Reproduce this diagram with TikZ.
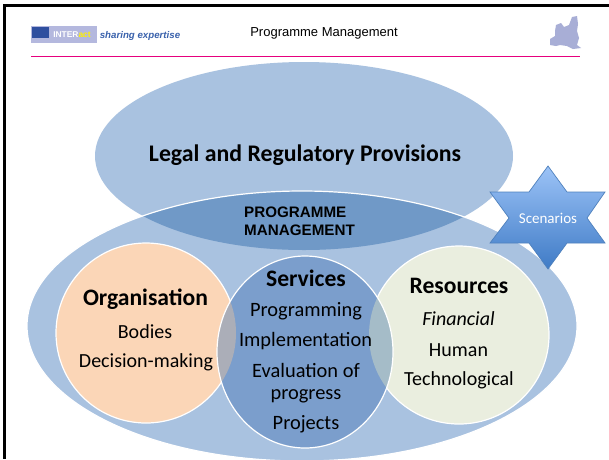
\documentclass[tikz,border=0pt]{standalone}
\usepackage{fontspec}
\setmainfont{Carlito}
\newfontfamily\arialf{Liberation Sans}
\definecolor{ellA}{HTML}{A9C2E0}
\definecolor{overlapA}{HTML}{7099C7}
\definecolor{servC}{HTML}{7B9ECC}
\definecolor{orgC}{HTML}{FBD6B7}
\definecolor{resC}{HTML}{EAEEDF}
\definecolor{lensL}{HTML}{ABAEB8}
\definecolor{lensR}{HTML}{A5BCC8}
\definecolor{pinkL}{HTML}{E6007E}
\definecolor{starT}{HTML}{9CC3F7}
\definecolor{starB}{HTML}{3F7BC6}
\definecolor{starE}{HTML}{4F81BD}
\definecolor{logoB}{HTML}{B4B8DE}
\definecolor{logoF}{HTML}{2F4F9F}
\definecolor{slog}{HTML}{3A62AC}
\definecolor{mapC}{HTML}{A8AED6}
\tikzset{
  txt/.style={inner sep=0pt,text=black},
  head/.style={txt,font=\fontsize{23.6}{26}\selectfont\bfseries},
  item/.style={txt,font=\fontsize{20.4}{22}\selectfont},
  sub/.style={txt,font=\fontsize{20}{23}\selectfont},
  ring/.style={draw=white,line width=1.2pt},
}
\begin{document}
\begin{tikzpicture}[x=1pt,y=-1pt]
\useasboundingbox (0,0) rectangle (609,459);
\fill[white] (0,0) rectangle (609,459);
% slide frame
\fill[black] (3,4) rectangle (609,6.5);
\fill[black] (3,4) rectangle (6,459);
% header
\fill[logoB] (31,26) rectangle (97,43);
\fill[logoF] (32,27) rectangle (48.5,38);
\node[inner sep=0pt,font=\arialf\fontsize{8.4}{9}\selectfont\bfseries,text=white] (logo) at (72,35) {INTER\textcolor{yellow}{act}};
\node[inner sep=0pt,font=\arialf\fontsize{9.7}{10}\selectfont\bfseries\itshape,text=slog] (slogan) at (140,35.5) {sharing expertise};
\node[inner sep=0pt,font=\arialf\fontsize{13}{15}\selectfont,text=black] (title) at (324,33) {Programme Management};
\draw[pinkL,line width=1.1pt] (31,56.3) -- (580,56.3);
\fill[mapC] (572,17) -- (577,16) -- (578,24) -- (577,31) -- (579,38) -- (577,45) -- (581,48) -- (573,49) -- (567,46) -- (560,45) -- (556,46) -- (550,45) -- (550,39) -- (555,36) -- (555,31) -- (556,25) -- (561,23) -- (564,27) -- (569,25) -- cycle;
% ellipses
\fill[ellA] (304,156) ellipse [x radius=209,y radius=94];
\fill[ellA] (302,326) ellipse [x radius=275,y radius=135];
\begin{scope}
\clip (304,156) ellipse [x radius=209,y radius=94];
\fill[overlapA] (302,326) ellipse [x radius=275,y radius=135];
\end{scope}
\draw[ring] (302,326) ellipse [x radius=275,y radius=135];
% circles
\fill[orgC] (146,333) ellipse [x radius=90,y radius=90];
\draw[ring] (146,333) ellipse [x radius=90,y radius=90];
\fill[resC] (459,335) ellipse [x radius=90,y radius=89];
\draw[ring] (459,335) ellipse [x radius=90,y radius=89];
\fill[servC] (305,352) ellipse [x radius=88,y radius=96];
\begin{scope}
\clip (305,352) ellipse [x radius=88,y radius=96];
\fill[lensL] (146,333) ellipse [x radius=90,y radius=90];
\fill[lensR] (459,335) ellipse [x radius=90,y radius=89];
\end{scope}
\draw[ring] (305,352) ellipse [x radius=88,y radius=96];
% star
\shade[top color=starT,bottom color=starB,draw=starE,line width=0.7pt]
 (548,166) -- (567,192) -- (605,192) -- (587,218) -- (605,243) -- (567,243) -- (548,269) -- (529,243) -- (490,243) -- (509,218) -- (490,192) -- (529,192) -- cycle;
% texts
\node[inner sep=0pt,font=\fontsize{23.8}{26}\selectfont\bfseries,text=black] (legal) at (305,155) {Legal and Regulatory Provisions};
\node[inner sep=0pt,font=\arialf\fontsize{15.2}{18}\selectfont\bfseries,text=black,align=left,anchor=west] (pm) at (244,221.5) {PROGRAMME\\MANAGEMENT};
\node[inner sep=0pt,font=\fontsize{15}{17}\selectfont,text=white] (scen) at (548,218.5) {Scenarios};
\node[head] (org) at (145.5,299) {Organisation};
\node[sub] (bodies) at (145,332) {Bodies};
\node[sub] (dm) at (146,362.5) {Decision-making};
\node[head] (serv) at (306,278) {Services};
\node[item] (prog) at (306,311) {Programming};
\node[item] (impl) at (305.5,341.5) {Implementation};
\node[item,align=center] (eval) at (306,383) {Evaluation of\\progress};
\node[item] (proj) at (306,424.5) {Projects};
\node[head] (res) at (459,286) {Resources};
\node[sub,font=\fontsize{20}{23}\selectfont\itshape] (fin) at (458.5,319) {Financial};
\node[sub] (hum) at (458.5,350) {Human};
\node[sub] (tech) at (459,380) {Technological};
\end{tikzpicture}
\end{document}
